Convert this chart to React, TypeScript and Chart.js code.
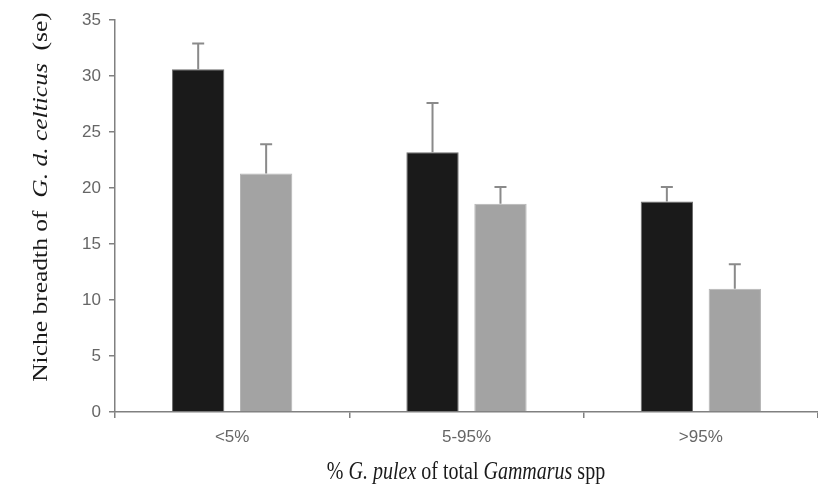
import React, { useEffect, useRef } from "react";
import { Chart, registerables } from "chart.js";

Chart.register(...registerables);

const categories = ["<5%", "5-95%", ">95%"];
const blackMeans = [30.6, 23.2, 18.8];
const blackSE = [2.3, 4.4, 1.3];
const grayMeans = [21.3, 18.6, 11.0];
const graySE = [2.6, 1.5, 2.2];
const yTicks = [0, 5, 10, 15, 20, 25, 30, 35];

const serif = "'Liberation Serif', 'Times New Roman', serif";
const sans = "'Liberation Sans', 'Open Sans', sans-serif";

function drawSegments(ctx: CanvasRenderingContext2D, segs: [string, boolean][], size: number) {
  const fonts = segs.map(([, it]) => `${it ? "italic " : ""}${size}px ${serif}`);
  let total = 0;
  const widths = segs.map(([t], i) => {
    ctx.font = fonts[i];
    const w = ctx.measureText(t).width;
    total += w;
    return w;
  });
  let x = -total / 2;
  ctx.textBaseline = "middle";
  ctx.textAlign = "left";
  segs.forEach(([t], i) => {
    ctx.font = fonts[i];
    ctx.fillText(t, x, 0);
    x += widths[i];
  });
}

const extrasPlugin = {
  id: "extras",
  afterDatasetsDraw(chart: any) {
    const ctx = chart.ctx as CanvasRenderingContext2D;
    const y = chart.scales.y;
    const sets = [
      [blackMeans, blackSE],
      [grayMeans, graySE],
    ];
    ctx.save();
    ctx.strokeStyle = "#8a8a8a";
    ctx.lineWidth = 2;
    sets.forEach(([means, se], di) => {
      const meta = chart.getDatasetMeta(di);
      meta.data.forEach((bar: any, j: number) => {
        const x = bar.x;
        const y0 = y.getPixelForValue(means[j]);
        const y1 = y.getPixelForValue(means[j] + se[j]);
        ctx.beginPath();
        ctx.moveTo(x, y0);
        ctx.lineTo(x, y1);
        ctx.moveTo(x - 6, y1);
        ctx.lineTo(x + 6, y1);
        ctx.stroke();
      });
    });
    ctx.restore();
  },
  afterDraw(chart: any) {
    const ctx = chart.ctx as CanvasRenderingContext2D;
    ctx.save();
    ctx.fillStyle = "#1a1a1a";
    ctx.translate(466, 472);
    ctx.scale(0.8, 1);
    drawSegments(
      ctx,
      [["% ", false], ["G. pulex", true], [" of total ", false], ["Gammarus", true], [" spp", false]],
      25
    );
    ctx.restore();
    ctx.save();
    ctx.fillStyle = "#1a1a1a";
    ctx.translate(42, 197);
    ctx.rotate(-Math.PI / 2);
    ctx.scale(1, 0.8);
    drawSegments(
      ctx,
      [["Niche breadth of  ", false], ["G. d. celticus", true], ["  (se)", false]],
      25.5
    );
    ctx.restore();
  },
};

export default function App() {
  const ref = useRef<HTMLCanvasElement>(null);
  useEffect(() => {
    if (!ref.current) return;
    const chart = new Chart(ref.current, {
      type: "bar",
      data: {
        labels: categories,
        datasets: [
          {
            data: blackMeans,
            backgroundColor: "#1a1a1a",
            borderColor: "#6e6e6e",
            borderWidth: 1,
            categoryPercentage: 0.58,
            barPercentage: 0.77,
          },
          {
            data: grayMeans,
            backgroundColor: "#a3a3a3",
            borderColor: "#b5b5b5",
            borderWidth: 1,
            categoryPercentage: 0.58,
            barPercentage: 0.77,
          },
        ],
      },
      options: {
        animation: false,
        responsive: false,
        layout: { padding: { top: 20, right: 0, left: 0, bottom: 0 } },
        plugins: { legend: { display: false }, tooltip: { enabled: false } },
        scales: {
          x: {
            border: { display: true, color: "#808080", width: 1.5 },
            grid: { display: true, drawOnChartArea: false, drawTicks: true, tickLength: 6, color: "#808080", lineWidth: 1.5 },
            ticks: { color: "#666666", font: { family: sans, size: 17 }, padding: 9 },
            afterFit: (s: any) => {
              s.height = 73;
            },
          },
          y: {
            min: 0,
            max: 35,
            afterBuildTicks: (s: any) => {
              s.ticks = yTicks.map((v) => ({ value: v }));
            },
            border: { display: true, color: "#808080", width: 1.5 },
            grid: { display: true, drawOnChartArea: false, drawTicks: true, tickLength: 6, color: "#808080", lineWidth: 1.5 },
            ticks: { color: "#666666", font: { family: sans, size: 17 }, padding: 8 },
            afterFit: (s: any) => {
              s.width = 115;
            },
          },
        },
      },
      plugins: [extrasPlugin],
    });
    return () => chart.destroy();
  }, []);
  return (
    <div style={{ position: "fixed", left: 0, top: 0, width: 818, height: 485, background: "#fff" }}>
      <canvas ref={ref} width={818} height={485} />
    </div>
  );
}
